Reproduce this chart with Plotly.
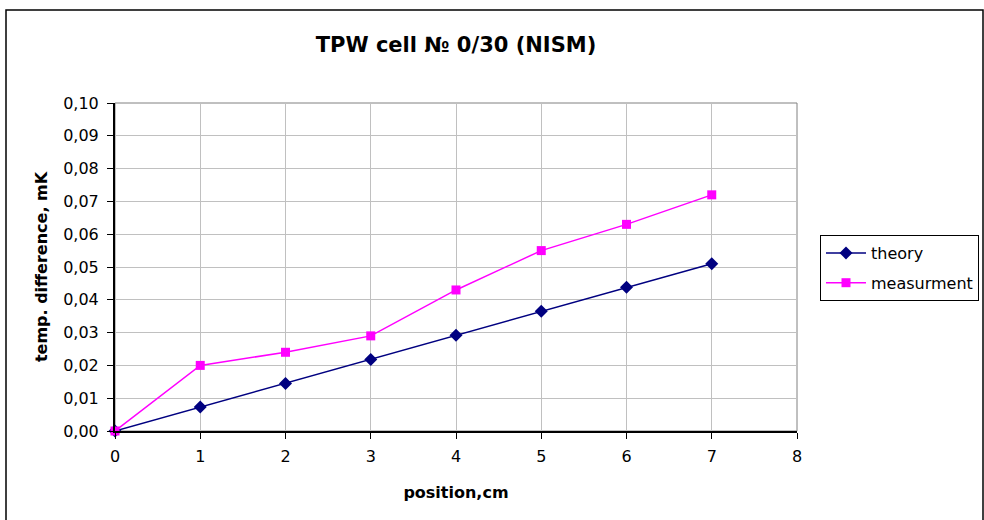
import plotly.graph_objects as go

positions = [0, 1, 2, 3, 4, 5, 6, 7]
theory = [0.0, 0.0073, 0.0145, 0.0218, 0.0292, 0.0365, 0.0438, 0.0510]
measurement = [0.0, 0.020, 0.024, 0.029, 0.043, 0.055, 0.063, 0.072]

FONT = "DejaVu Sans, Liberation Sans, Arial, sans-serif"

W, H = 984, 520
ML, MR, MT, MB = 115, 187, 103, 89
PW, PH = W - ML - MR, H - MT - MB


def px(x):
    return (x - ML) / PW


def py(y):
    return (H - MB - y) / PH


fig = go.Figure()
fig.add_trace(go.Scatter(
    x=positions, y=theory, name="theory", mode="lines+markers",
    legendgroup="a",
    line=dict(color="#000080", width=1.5),
    marker=dict(symbol="diamond", size=10, color="#000080"),
    cliponaxis=False,
))
fig.add_trace(go.Scatter(
    x=positions, y=measurement, name="measurment", mode="lines+markers",
    legendgroup="b",
    line=dict(color="#FF00FF", width=1.5),
    marker=dict(symbol="square", size=9, color="#FF00FF"),
    cliponaxis=False,
))

fig.update_layout(
    width=W, height=H,
    margin=dict(l=ML, r=MR, t=MT, b=MB, autoexpand=False),
    paper_bgcolor="white", plot_bgcolor="white",
    separators=", ",
    font=dict(family=FONT, size=16, color="black"),
    title=dict(text="<b>TPW cell № 0/30 (NISM)</b>", x=0.5, xref="paper",
               xanchor="center", y=1 - 45 / H, yanchor="middle",
               font=dict(size=21, family=FONT)),
    showlegend=True,
    legend=dict(x=px(820), xanchor="left", y=py(235), yanchor="top",
                bordercolor="black", borderwidth=1, bgcolor="white",
                font=dict(size=16, family=FONT), tracegroupgap=6,
                itemwidth=40),
    xaxis=dict(range=[0, 8], dtick=1, tick0=0, showgrid=True,
               gridcolor="#c0c0c0", gridwidth=1, showline=True,
               linecolor="black", linewidth=1.5, ticks="outside",
               ticklen=6, tickcolor="black", zeroline=False,
               ticklabelstandoff=4,
               title=dict(text="<b>position,cm</b>", standoff=22,
                          font=dict(size=16)),
               tickfont=dict(size=16)),
    yaxis=dict(range=[0, 0.10], dtick=0.01, tick0=0, tickformat=".2f",
               showgrid=True, gridcolor="#c0c0c0", gridwidth=1,
               showline=True, linecolor="black", linewidth=2,
               ticks="outside", ticklen=6, tickcolor="black",
               zeroline=False, ticklabelstandoff=5,
               title=dict(text="<b>temp. difference, mK</b>", standoff=12,
                          font=dict(size=16)),
               tickfont=dict(size=16)),
    shapes=[
        dict(type="rect", xref="paper", yref="paper", x0=0, y0=0, x1=1, y1=1,
             line=dict(color="#808080", width=1), layer="below"),
        dict(type="rect", xref="paper", yref="paper",
             x0=px(6), x1=px(983), y0=py(540), y1=py(10),
             line=dict(color="black", width=1.5)),
    ],
)

fig.write_html(
    "out.html",
    config={"displayModeBar": False},
    post_script="document.body.style.margin='0';"
                "document.body.style.overflow='hidden';",
)
